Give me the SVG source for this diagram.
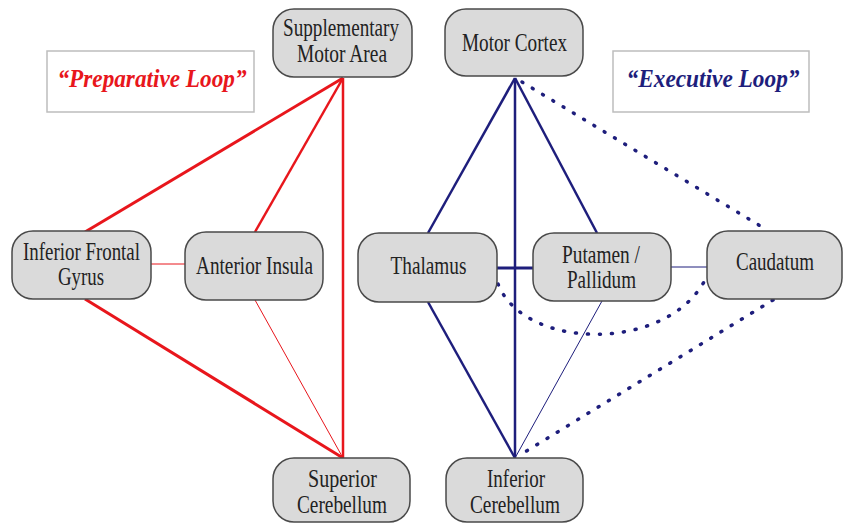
<svg xmlns="http://www.w3.org/2000/svg" width="843" height="523" viewBox="0 0 843 523">
<style>
.node rect{fill:#dadada;stroke:#4a4a4a;stroke-width:1.5}
.node text{font-family:'Liberation Serif','Times New Roman','DejaVu Serif',serif;font-size:25px;fill:#222;text-anchor:middle}
.lbl rect{fill:#fff;stroke:#bdbdbd;stroke-width:1.5}
.lbl text{font-family:'Liberation Serif','Times New Roman','DejaVu Serif',serif;font-size:26px;font-weight:bold;font-style:italic;text-anchor:middle}
.r{stroke:#e8161c;fill:none}
.b{stroke:#1e1e7c;fill:none}
.dot{stroke-dasharray:1 11;stroke-width:3.5;stroke-linecap:round}
</style>
<rect width="843" height="523" fill="#fff"/>
<g id="connectors">
<line class="r" x1="343" y1="78" x2="85" y2="232" stroke-width="3"/>
<line class="r" x1="343" y1="78" x2="255" y2="232" stroke-width="2.5"/>
<line class="r" x1="343" y1="78" x2="343" y2="458" stroke-width="2.5"/>
<line class="r" x1="85" y1="299" x2="343" y2="458" stroke-width="3"/>
<line class="r" x1="255" y1="300" x2="343" y2="458" stroke-width="1"/>
<line class="r" x1="151" y1="264" x2="185" y2="264" stroke-width="1"/>
<line class="b" x1="515" y1="78" x2="428" y2="233" stroke-width="2.5"/>
<line class="b" x1="515" y1="78" x2="515" y2="458" stroke-width="2.5"/>
<line class="b" x1="515" y1="78" x2="597" y2="233" stroke-width="2.5"/>
<line class="b" x1="428" y1="302" x2="515" y2="458" stroke-width="2.5"/>
<line class="b" x1="602" y1="301" x2="515" y2="458" stroke-width="1"/>
<line class="b" x1="497" y1="268" x2="533" y2="268" stroke-width="3"/>
<line class="b" x1="671" y1="267" x2="707" y2="267" stroke-width="1"/>
<line class="b dot" x1="522" y1="82" x2="767" y2="230"/>
<line class="b dot" x1="773" y1="300" x2="520" y2="455"/>
<path class="b dot" d="M498,284 C525,352 670,352 706,278"/>
</g>
<g id="preparative-label" class="lbl"><rect x="47" y="51" width="207" height="61"/><text x="152" y="87" fill="#e8161c" textLength="189" lengthAdjust="spacingAndGlyphs">“Preparative Loop”</text></g>
<g id="executive-label" class="lbl"><rect x="613" y="51" width="196" height="61"/><text x="713" y="87" fill="#1e1e7c" textLength="173" lengthAdjust="spacingAndGlyphs">“Executive Loop”</text></g>
<g id="sma" class="node"><rect x="273" y="9" width="139" height="68" rx="21"/><text x="341" y="36" textLength="116" lengthAdjust="spacingAndGlyphs">Supplementary</text><text x="342" y="62" textLength="90" lengthAdjust="spacingAndGlyphs">Motor Area</text></g>
<g id="motor-cortex" class="node"><rect x="445" y="9" width="138" height="67" rx="21"/><text x="514.5" y="51" textLength="105" lengthAdjust="spacingAndGlyphs">Motor Cortex</text></g>
<g id="ifg" class="node"><rect x="12" y="231" width="139" height="68" rx="21"/><text x="81.5" y="260" textLength="117" lengthAdjust="spacingAndGlyphs">Inferior Frontal</text><text x="81" y="285" textLength="46" lengthAdjust="spacingAndGlyphs">Gyrus</text></g>
<g id="anterior-insula" class="node"><rect x="185" y="232" width="138" height="68" rx="21"/><text x="254.5" y="274" textLength="117" lengthAdjust="spacingAndGlyphs">Anterior Insula</text></g>
<g id="thalamus" class="node"><rect x="358" y="233" width="139" height="69" rx="21"/><text x="428.5" y="274" textLength="76" lengthAdjust="spacingAndGlyphs">Thalamus</text></g>
<g id="putamen" class="node"><rect x="533" y="233" width="138" height="68" rx="21"/><text x="601" y="263" textLength="78" lengthAdjust="spacingAndGlyphs">Putamen /</text><text x="601.5" y="288" textLength="69" lengthAdjust="spacingAndGlyphs">Pallidum</text></g>
<g id="caudatum" class="node"><rect x="707" y="231" width="135" height="68" rx="21"/><text x="775" y="270" textLength="78" lengthAdjust="spacingAndGlyphs">Caudatum</text></g>
<g id="superior-cerebellum" class="node"><rect x="273" y="458" width="137" height="64" rx="21"/><text x="342.5" y="487" textLength="69" lengthAdjust="spacingAndGlyphs">Superior</text><text x="342" y="513" textLength="90" lengthAdjust="spacingAndGlyphs">Cerebellum</text></g>
<g id="inferior-cerebellum" class="node"><rect x="446" y="458" width="137" height="64" rx="21"/><text x="516" y="487" textLength="58" lengthAdjust="spacingAndGlyphs">Inferior</text><text x="515" y="513" textLength="90" lengthAdjust="spacingAndGlyphs">Cerebellum</text></g>
</svg>
